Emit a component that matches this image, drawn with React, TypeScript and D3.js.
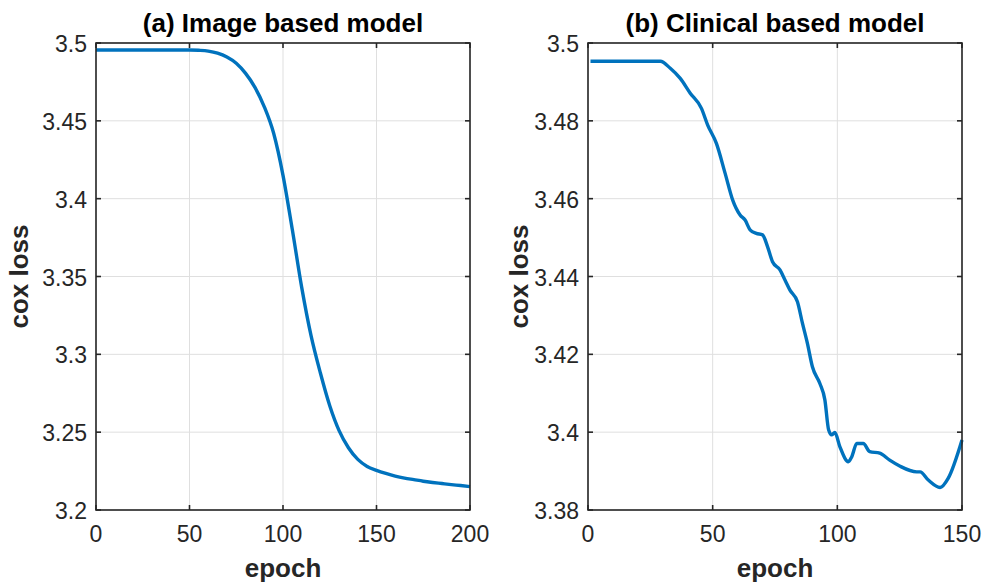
import React from "react";
import * as d3 from "d3";

// (a) image based model, read every 5 epochs
const imageEpochs = [
  0, 5, 10, 15, 20, 25, 30, 35, 40, 45, 50, 55, 60, 65, 70, 75, 80, 85, 90, 95, 100, 105, 110, 115, 120, 125,
  130, 135, 140, 145, 150, 155, 160, 165, 170, 175, 180, 185, 190, 195, 200,
];
const imageLoss = [
  3.4955, 3.4955, 3.4955, 3.4955, 3.4955, 3.4955, 3.4955, 3.4955, 3.4955, 3.4955, 3.4955, 3.4953, 3.4948, 3.4935,
  3.491, 3.487, 3.4805, 3.4715, 3.459, 3.442, 3.415, 3.38, 3.343, 3.312, 3.288, 3.267, 3.251, 3.24, 3.2325, 3.228,
  3.2255, 3.2235, 3.2218, 3.2205, 3.2195, 3.2185, 3.2177, 3.217, 3.2163, 3.2157, 3.215,
];

// (b) clinical based model
const clinicalEpochs = [
  1, 29, 33, 37, 41, 45.5, 48, 51.5, 55, 58, 61, 63, 65, 67.5, 70, 72, 74, 77, 79, 81, 84, 86, 88, 90, 93, 95, 96.5,
  97.7, 99, 101, 104.4, 105.8, 107.8, 110.4, 113, 117, 121, 125, 131.8, 133.2, 136.5, 141.2, 144.5, 150,
];
const clinicalLoss = [
  3.4953, 3.4953, 3.4935, 3.4909, 3.4871, 3.4832, 3.4789, 3.4742, 3.4665, 3.4597, 3.4558, 3.4545, 3.452, 3.4511,
  3.4507, 3.4477, 3.4438, 3.4417, 3.4391, 3.4365, 3.4335, 3.428, 3.4228, 3.4168, 3.4125, 3.4083, 3.4006, 3.3993,
  3.3999, 3.3963, 3.3924, 3.3937, 3.3971, 3.3971, 3.395, 3.3946, 3.3928, 3.3913, 3.3898, 3.3898, 3.3877, 3.3858,
  3.3882, 3.398,
];

const imageXTicks = [0, 50, 100, 150, 200];
const imageYTicks = [3.2, 3.25, 3.3, 3.35, 3.4, 3.45, 3.5];
const clinicalXTicks = [0, 50, 100, 150];
const clinicalYTicks = [3.38, 3.4, 3.42, 3.44, 3.46, 3.48, 3.5];

const FONT = "'Liberation Sans', Arial, Helvetica, sans-serif";
const AXIS = "#262626";

type PanelProps = {
  left: number;
  labelOffset: number;
  title: string;
  xs: number[];
  ys: number[];
  xDomain: [number, number];
  yDomain: [number, number];
  xTicks: number[];
  yTicks: number[];
};

const Panel = ({ left, labelOffset, title, xs, ys, xDomain, yDomain, xTicks, yTicks }: PanelProps) => {
  const top = 43;
  const bottom = 510;
  const width = 374;
  const x = d3.scaleLinear().domain(xDomain).range([left, left + width]);
  const y = d3.scaleLinear().domain(yDomain).range([bottom, top]);

  const line = d3
    .line<number>()
    .x((_, i) => x(xs[i]))
    .y((d) => y(d))
    .curve(d3.curveMonotoneX);

  const tick = 5;

  return (
    <g>
      {xTicks.map((t) => (
        <line key={"gx" + t} x1={x(t)} x2={x(t)} y1={top} y2={bottom} stroke="#dfdfdf" strokeWidth={1} />
      ))}
      {yTicks.map((t) => (
        <line key={"gy" + t} x1={left} x2={left + width} y1={y(t)} y2={y(t)} stroke="#dfdfdf" strokeWidth={1} />
      ))}
      <path d={line(ys) || ""} fill="none" stroke="#0072BD" strokeWidth={3.4} strokeLinejoin="round" />
      <rect x={left} y={top} width={width} height={bottom - top} fill="none" stroke={AXIS} strokeWidth={1.6} />
      {xTicks.map((t) => (
        <g key={"tx" + t}>
          <line x1={x(t)} x2={x(t)} y1={bottom} y2={bottom - tick} stroke={AXIS} strokeWidth={1.6} />
          <line x1={x(t)} x2={x(t)} y1={top} y2={top + tick} stroke={AXIS} strokeWidth={1.6} />
          <text x={x(t)} y={bottom + 32} textAnchor="middle" fontSize={23} fill={AXIS} fontFamily={FONT}>
            {t}
          </text>
        </g>
      ))}
      {yTicks.map((t) => (
        <g key={"ty" + t}>
          <line x1={left} x2={left + tick} y1={y(t)} y2={y(t)} stroke={AXIS} strokeWidth={1.6} />
          <line x1={left + width} x2={left + width - tick} y1={y(t)} y2={y(t)} stroke={AXIS} strokeWidth={1.6} />
          <text x={left - 9} y={y(t) + 9} textAnchor="end" fontSize={23} fill={AXIS} fontFamily={FONT}>
            {String(t)}
          </text>
        </g>
      ))}
      <text x={left + width / 2} y={32} textAnchor="middle" fontSize={26} fontWeight="bold" fill="#000" fontFamily={FONT}>
        {title}
      </text>
      <text x={left + width / 2} y={577} textAnchor="middle" fontSize={26} fontWeight="bold" fill={AXIS} fontFamily={FONT}>
        epoch
      </text>
      <text
        transform={`translate(${left - labelOffset},${(top + bottom) / 2}) rotate(-90)`}
        textAnchor="middle"
        fontSize={26}
        fontWeight="bold"
        fill={AXIS}
        fontFamily={FONT}
      >
        cox loss
      </text>
    </g>
  );
};

export default function App() {
  return (
    <svg width={982} height={585} style={{ position: "absolute", left: 0, top: 0, background: "#fff" }}>
      <rect width={982} height={585} fill="#fff" />
      <Panel
        left={96}
        labelOffset={68}
        title="(a) Image based model"
        xs={imageEpochs}
        ys={imageLoss}
        xDomain={[0, 200]}
        yDomain={[3.2, 3.5]}
        xTicks={imageXTicks}
        yTicks={imageYTicks}
      />
      <Panel
        left={588}
        labelOffset={60}
        title="(b) Clinical based model"
        xs={clinicalEpochs}
        ys={clinicalLoss}
        xDomain={[0, 150]}
        yDomain={[3.38, 3.5]}
        xTicks={clinicalXTicks}
        yTicks={clinicalYTicks}
      />
    </svg>
  );
}
